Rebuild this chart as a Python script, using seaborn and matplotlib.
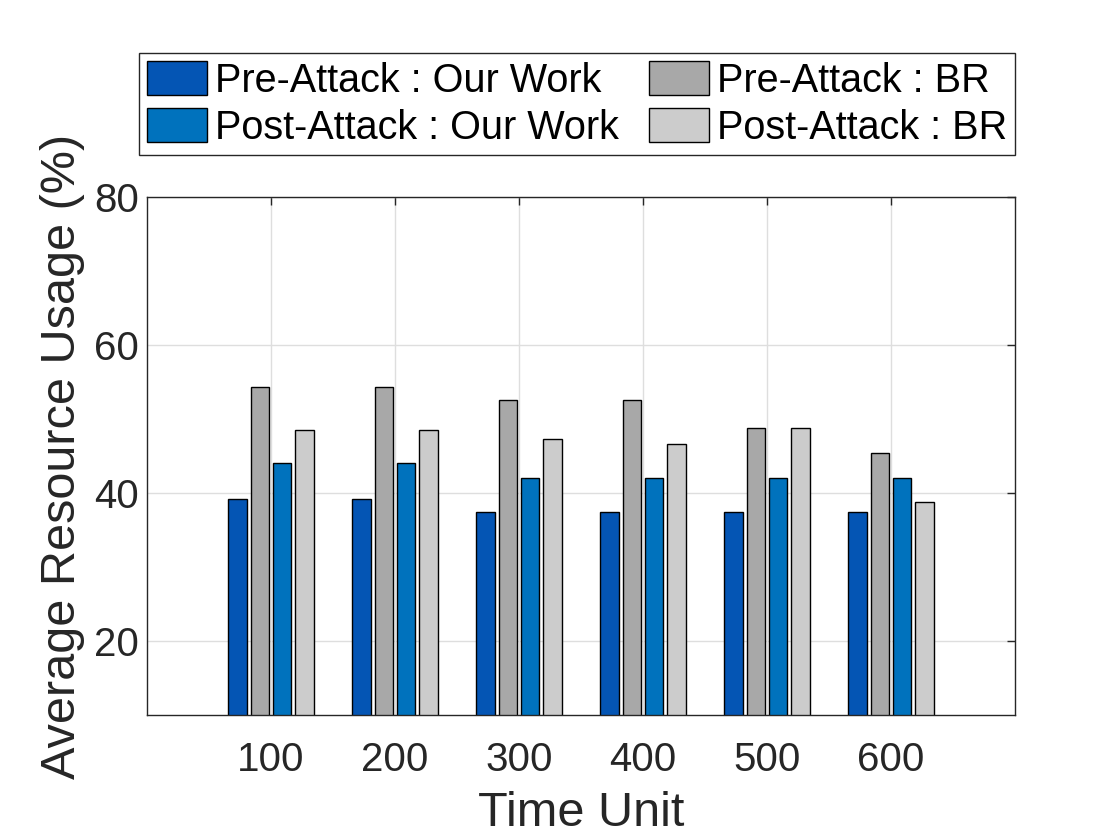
import matplotlib
matplotlib.use("Agg")
import matplotlib.pyplot as plt
import seaborn as sns
import pandas as pd

# ---- data ----
time_units = ["100", "200", "300", "400", "500", "600"]
pre_our = [39.2, 39.2, 37.4, 37.4, 37.4, 37.4]
pre_br = [54.3, 54.3, 52.6, 52.6, 48.8, 45.4]
post_our = [44.0, 44.0, 42.0, 42.0, 42.0, 42.0]
post_br = [48.5, 48.5, 47.3, 46.6, 48.8, 38.8]

series_names = ["Pre-Attack : Our Work", "Pre-Attack : BR",
                "Post-Attack : Our Work", "Post-Attack : BR"]
series_values = [pre_our, pre_br, post_our, post_br]
colors = ["#0455B4", "#A8A8A8", "#0072BD", "#CCCCCC"]

rows = []
for name, vals in zip(series_names, series_values):
    for t, v in zip(time_units, vals):
        rows.append({"Time Unit": t, "Series": name, "Value": v})
df = pd.DataFrame(rows)

sns.set_theme(style="white")
plt.rcParams["font.family"] = ["Liberation Sans", "DejaVu Sans"]

dark = "#262626"
fig = plt.figure(figsize=(11.2, 8.4), dpi=100)
ax = fig.add_axes([147 / 1120, 1 - 715 / 840, (1015 - 147) / 1120, (715 - 197) / 840])

sns.barplot(data=df, x="Time Unit", y="Value", hue="Series",
            hue_order=series_names, order=time_units,
            palette=dict(zip(series_names, colors)),
            edgecolor="black", linewidth=1.0, width=0.72, gap=0.18,
            errorbar=None, saturation=1, ax=ax)

ax.set_xlim(-1, 6)
ax.set_ylim(10, 80)
ax.set_yticks([20, 40, 60, 80])
ax.set_axisbelow(True)
ax.grid(True, color="#DEDEDE", linewidth=1.0)

for s in ax.spines.values():
    s.set_visible(True)
    s.set_color(dark)
    s.set_linewidth(1.0)

ax.tick_params(axis="both", direction="in", length=6, width=1.0, color=dark,
               labelcolor=dark, labelsize=29, top=True, right=True)
ax.tick_params(axis="y", pad=6)
ax.tick_params(axis="x", pad=19)

ax.set_xlabel("Time Unit", fontsize=35, color=dark, labelpad=8)
ax.set_ylabel("Average Resource Usage (%)", fontsize=35, color=dark, labelpad=6)

leg = ax.get_legend()
handles = list(leg.legend_handles)
labels = [t.get_text() for t in leg.get_texts()]
leg.remove()
order = [0, 2, 1, 3]
lg = fig.legend([handles[i] for i in order], [labels[i] for i in order],
                loc="upper left", bbox_to_anchor=(139 / 1120, 1 - 53 / 840),
                ncol=2, fontsize=28.5, frameon=True, fancybox=False,
                framealpha=1, edgecolor=dark, borderpad=0.2,
                labelspacing=0.22, handlelength=1.52, handleheight=0.95,
                handletextpad=0.2, columnspacing=0.75, borderaxespad=0)
lg.get_frame().set_linewidth(1.0)
for t in lg.get_texts():
    t.set_color("black")

fig.savefig("out.png", dpi=100)
